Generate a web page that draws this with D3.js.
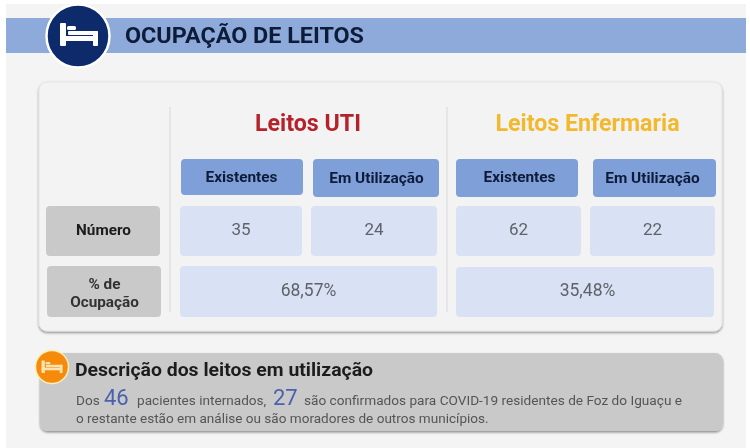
<!DOCTYPE html>
<html><head><meta charset="utf-8">
<script src="https://cdn.jsdelivr.net/npm/d3@7"></script>
<style>html,body{margin:0;padding:0;background:#fff}svg{display:block}text{font-family:Roboto,sans-serif}</style>
</head><body><svg id="c" width="750" height="448"></svg>
<script>
const title = "OCUPAÇÃO DE LEITOS";
const groups = ["Leitos UTI", "Leitos Enfermaria"];
const groupColors = ["#b5222c", "#f2b92e"];
const columns = ["Existentes", "Em Utilização", "Existentes", "Em Utilização"];
const rowLabels = [["Número"], ["% de", "Ocupação"]];
const numbers = [35, 24, 62, 22];
const occupancy = ["68,57%", "35,48%"];
const descTitle = "Descrição dos leitos em utilização";
const patients = 46, confirmed = 27;
const line1Parts = ["Dos", "pacientes internados,", "são confirmados para COVID-19 residentes de Foz do Iguaçu e"];
const line2 = "o restante estão em análise ou são moradores de outros municípios.";

const svg = d3.select("#c");
const defs = svg.append("defs");
const blur = defs.append("filter").attr("id","soft").attr("x","-5%").attr("y","-5%").attr("width","110%").attr("height","115%");
blur.append("feDropShadow").attr("dx",0).attr("dy",1.5).attr("stdDeviation",1.2).attr("flood-color","#000").attr("flood-opacity",.42);
const soft = defs.append("filter").attr("id","blur").attr("x","-5%").attr("y","-5%").attr("width","110%").attr("height","110%");
soft.append("feGaussianBlur").attr("stdDeviation",.4);

const root = svg.append("g").attr("filter","url(#blur)");
const rr = (x,y,w,h,r,fill) => root.append("rect").attr("x",x).attr("y",y).attr("width",w).attr("height",h).attr("rx",r).attr("fill",fill);
const txt = (x,y,s,size,weight,fill,anchor="middle") => root.append("text").attr("x",x).attr("y",y).attr("text-anchor",anchor)
  .attr("font-size",size).attr("font-weight",weight).attr("fill",fill).text(s);

function bed(cx, cy, k, color){
  const g = root.append("g").attr("transform",`translate(${cx},${cy}) scale(${k})`).attr("fill",color);
  g.append("rect").attr("x",-19).attr("y",-12).attr("width",6).attr("height",23).attr("rx",1);
  g.append("rect").attr("x",-19).attr("y",1).attr("width",38).attr("height",5);
  g.append("rect").attr("x",14).attr("y",-4).attr("width",5).attr("height",15).attr("rx",1);
  g.append("rect").attr("x",-11).attr("y",-4).attr("width",30).attr("height",4).attr("rx",1);
  g.append("rect").attr("x",-12).attr("y",-9).attr("width",9).attr("height",4).attr("rx",1.5);
}

// page
rr(0,0,750,448,0,"#ffffff");
rr(6,4,740,444,0,"#f4f4f4");
// banner
rr(6,18,740,35,0,"#8eaadb");
root.append("circle").attr("cx",78).attr("cy",36).attr("r",31.5).attr("fill","#0b2a6b").attr("stroke","#fff").attr("stroke-width",2.5);
bed(79,35,1,"#fff");
txt(125,43,title,22,700,"#0f1d38","start").attr("textLength",239).attr("lengthAdjust","spacingAndGlyphs");

// card
rr(39,82,683,249,8,"#f3f3f3").attr("stroke","#e4e4e4").attr("filter","url(#soft)");
const x0 = [170,447];
x0.forEach(x=>root.append("line").attr("x1",x).attr("x2",x).attr("y1",107).attr("y2",312).attr("stroke","#dcdcdc").attr("stroke-width",1.2));

// group titles
const groupX = d3.scaleOrdinal().domain(groups).range([308,587.5]);
groups.forEach((g,i)=>txt(groupX(g),131,g,23.2,700,groupColors[i]));

// columns
const colX = d3.scaleOrdinal().domain(d3.range(4)).range([181,313,456,593]);
const colW = d3.scaleOrdinal().domain(d3.range(4)).range([122,126,122,123]);
const colText = d3.scaleOrdinal().domain(d3.range(4)).range([241.5,376.5,519.5,652.5]);
const cellX = d3.scaleOrdinal().domain(d3.range(4)).range([180,311,456,590]);
const cellW = d3.scaleOrdinal().domain(d3.range(4)).range([122,126,125,125]);
columns.forEach((c,i)=>{
  rr(colX(i),159,colW(i),i==0?36:38,4,"#7f9fd8");
  txt(colText(i),i%2?183:182,c,15.4,700,"#101c38");
});
numbers.forEach((n,i)=>{
  rr(cellX(i),206,cellW(i),50,4,"#d8e2f4");
  txt(cellX(i)+cellW(i)/2,235,n,17,400,"#5f6268");
});
// row labels
rr(46,206,114,50,4,"#c9c9c9");
txt(103.5,235,rowLabels[0][0],15.3,700,"#1a1a1a");
rr(47,266,114,51,4,"#c9c9c9");
txt(104.5,289,rowLabels[1][0],15.3,700,"#333");
txt(104.5,307,rowLabels[1][1],15.3,700,"#333");
// occupancy
const occX=[180,456], occW=[257,258], occY=[266,267], occH=[51,50], occT=[308.5,587.5];
occupancy.forEach((o,i)=>{
  rr(occX[i],occY[i],occW[i],occH[i],4,"#d8e2f4");
  txt(occT[i],296,o,17.5,400,"#5f6268");
});

// description
rr(40,353,683,78,8,"#c9c9c9").attr("filter","url(#soft)");
root.append("circle").attr("cx",52).attr("cy",367).attr("r",16.5).attr("fill","#f58a07").attr("stroke","#fdeeb5").attr("stroke-width",1.5);
bed(52,367,.55,"#fde3b0");
txt(75,376,descTitle,18,700,"#1e1e1e","start").attr("textLength",298).attr("lengthAdjust","spacingAndGlyphs");
txt(76,405,line1Parts[0],13.6,400,"#555","start");
txt(104,405,patients,22,400,"#4a62ad","start");
txt(137,405,line1Parts[1],13.6,400,"#555","start");
txt(273,405,confirmed,22,400,"#4a62ad","start");
txt(304,405,line1Parts[2],13.6,400,"#555","start").attr("textLength",378).attr("lengthAdjust","spacingAndGlyphs");
txt(76,423,line2,13.55,400,"#555","start");
</script></body></html>
